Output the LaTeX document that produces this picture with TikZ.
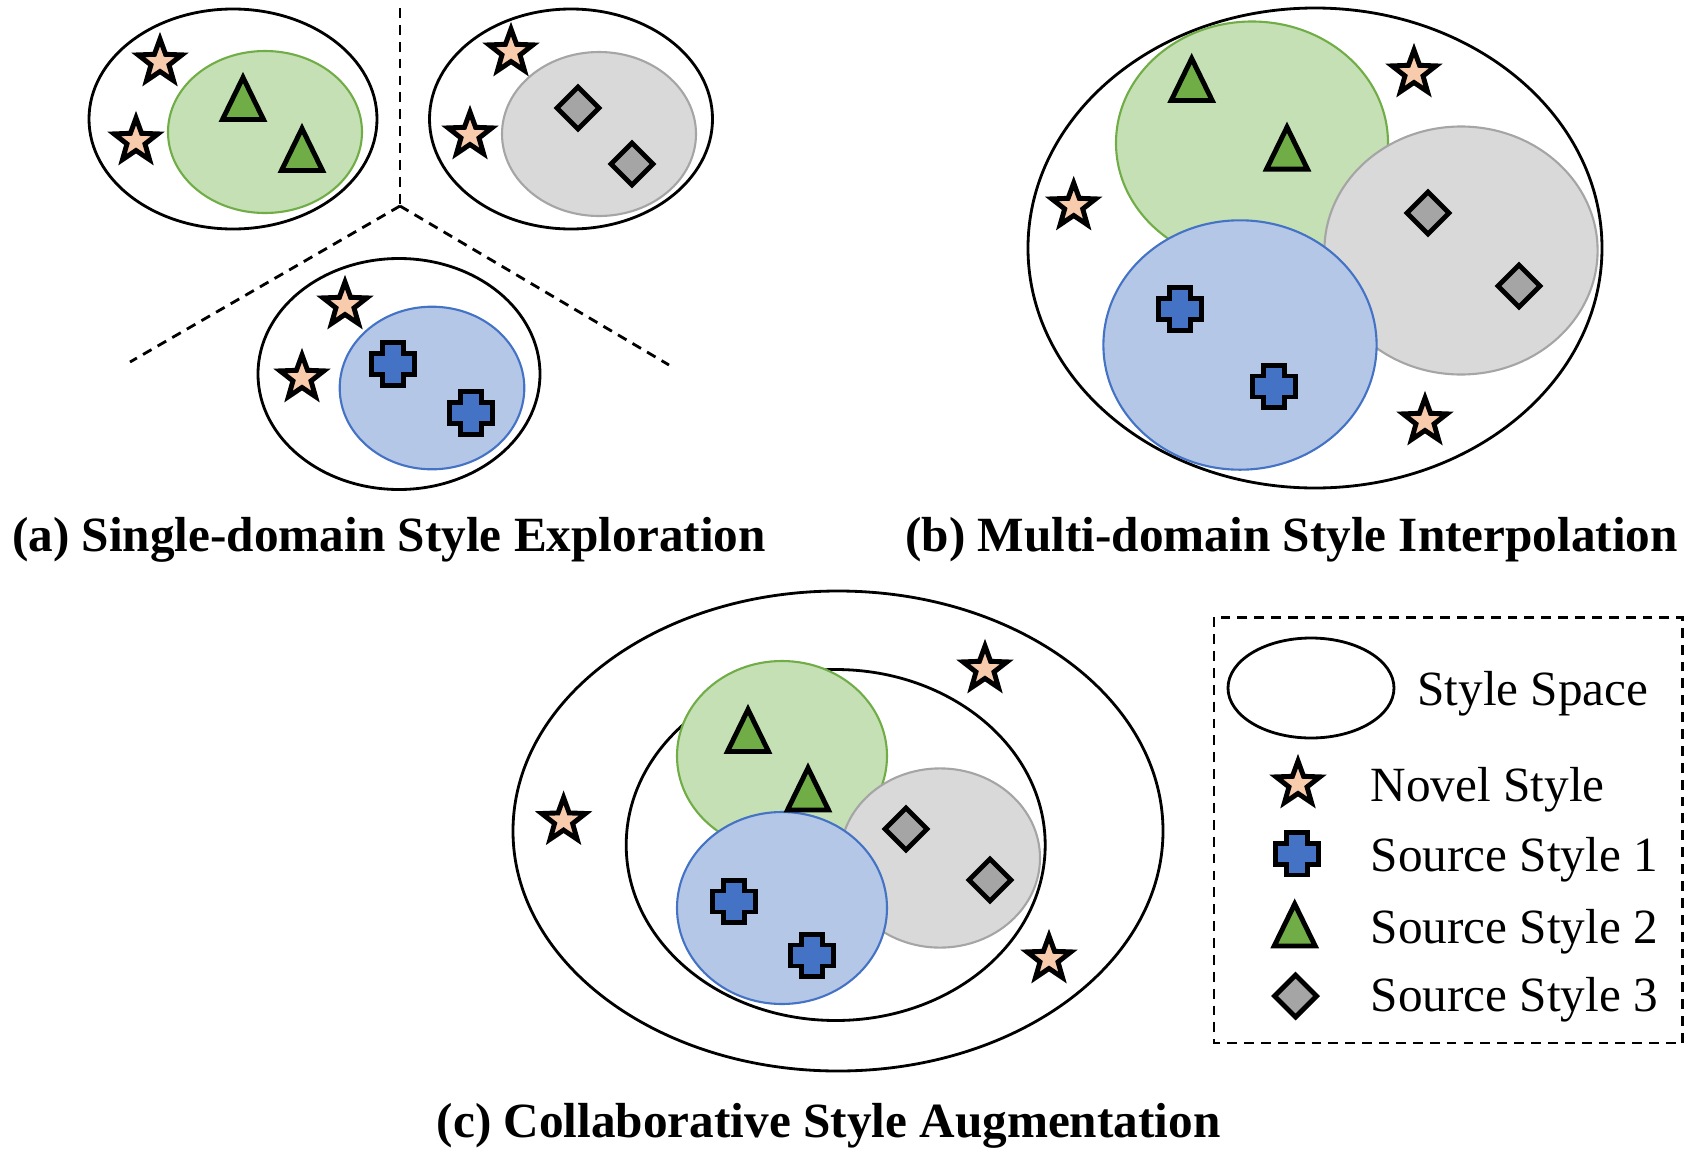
\documentclass[tikz,border=0pt]{standalone}
\usepackage{fontspec}
\setmainfont{Liberation Serif}

\definecolor{novelfill}{HTML}{F8CBAD}
\definecolor{greenlite}{HTML}{C5E0B4}
\definecolor{greendark}{HTML}{70AD47}
\definecolor{bluelite}{HTML}{B4C7E7}
\definecolor{bluedark}{HTML}{4472C4}
\definecolor{graylite}{HTML}{D9D9D9}
\definecolor{graydark}{HTML}{A5A5A5}

\tikzset{
	space/.style={draw=black, line width=0.8pt},
	domgreen/.style={fill=greenlite, draw=greendark, line width=0.6pt},
	domblue/.style={fill=bluelite, draw=bluedark, line width=0.6pt},
	domgray/.style={fill=graylite, draw=graydark, line width=0.6pt},
	divider/.style={draw=black, line width=0.8pt, dash pattern=on 2.8pt off 2pt},
	markline/.style={draw=black, line width=1.4pt, line join=miter, miter limit=10},
	caption/.style={font=\fontsize{14}{17}\selectfont\bfseries, anchor=base, inner sep=0pt},
	legendtext/.style={font=\fontsize{14}{17}\selectfont, anchor=base west, inner sep=0pt},
	novel/.pic={
		\path[markline, fill=novelfill] (-90:23)
			\foreach \k in {0,...,4} { -- ({-90+72*\k}:23) -- ({-54+72*\k}:9.5) } -- cycle;
	},
	srcone/.pic={
		\path[markline, fill=bluedark] (-10.5,-21.3) -- (10.5,-21.3) -- (10.5,-10.5) -- (21.3,-10.5)
			-- (21.3,10.5) -- (10.5,10.5) -- (10.5,21.3) -- (-10.5,21.3) -- (-10.5,10.5)
			-- (-21.3,10.5) -- (-21.3,-10.5) -- (-10.5,-10.5) -- cycle;
	},
	srctwo/.pic={
		\path[markline, fill=greendark] (0,-19.5) -- (20.5,22.5) -- (-20.5,22.5) -- cycle;
	},
	srcthree/.pic={
		\path[markline, fill=graydark] (0,-21) -- (21,0) -- (0,21) -- (-21,0) -- cycle;
	},
}

\begin{document}
\begin{tikzpicture}[x=0.01cm, y=-0.01cm]
	\useasboundingbox (0,0) rectangle (1693,1157);

	% (a) single domain
	\coordinate (hub) at (400,206);
	\coordinate (hubtop) at (400,8);
	\coordinate (hubleft) at (130,362);
	\coordinate (hubright) at (669,365);
	\draw[divider] (hubtop) -- (hub);
	\draw[divider] (hub) -- (hubleft);
	\draw[divider] (hub) -- (hubright);

	\draw[space] (233,119) ellipse [x radius=144, y radius=110];
	\path[domgreen] (265,132) ellipse [x radius=97, y radius=81];
	\pic (aTa) at (243,97) {srctwo};
	\pic (aTb) at (302,148) {srctwo};
	\pic (aNa) at (160,62) {novel};
	\pic (aNb) at (136,141) {novel};

	\draw[space] (571,119) ellipse [x radius=141.5, y radius=110];
	\path[domgray] (599,134) ellipse [x radius=97, y radius=82];
	\pic (aDa) at (578,108) {srcthree};
	\pic (aDb) at (632,164) {srcthree};
	\pic (aNc) at (511,52) {novel};
	\pic (aNd) at (470,135) {novel};

	\draw[space] (399,374) ellipse [x radius=141, y radius=115.5];
	\path[domblue] (432,388) ellipse [x radius=92.3, y radius=81.3];
	\pic (aPa) at (393,364) {srcone};
	\pic (aPb) at (471,413) {srcone};
	\pic (aNe) at (345,305) {novel};
	\pic (aNf) at (302,378) {novel};

	\node[caption] (capa) at (389,551.7) {(a) Single-domain Style Exploration};

	% (b) multi domain
	\draw[space] (1315,248) ellipse [x radius=287, y radius=240];
	\path[domgreen] (1252,143) ellipse [x radius=136, y radius=121.5];
	\path[domgray] (1461,250.5) ellipse [x radius=136.6, y radius=124];
	\path[domblue] (1240,345) ellipse [x radius=136.6, y radius=124.7];
	\pic (bTa) at (1191.7,78) {srctwo};
	\pic (bTb) at (1287,146.7) {srctwo};
	\pic (bDa) at (1428,213) {srcthree};
	\pic (bDb) at (1519,286) {srcthree};
	\pic (bPa) at (1180,309) {srcone};
	\pic (bPb) at (1274,386.5) {srcone};
	\pic (bNa) at (1414,73) {novel};
	\pic (bNb) at (1073.7,206) {novel};
	\pic (bNc) at (1425,421) {novel};

	\node[caption] (capb) at (1291.6,551.7) {(b) Multi-domain Style Interpolation};

	% (c) collaborative
	\draw[space] (838,831) ellipse [x radius=325, y radius=240];
	\draw[space] (835.7,845) ellipse [x radius=209.5, y radius=175.5];
	\path[domgreen] (782,756) ellipse [x radius=105, y radius=95];
	\path[domgray] (940,858) ellipse [x radius=100, y radius=89.6];
	\path[domblue] (782,908) ellipse [x radius=105, y radius=96];
	\pic (cTa) at (748,729) {srctwo};
	\pic (cTb) at (808,787.5) {srctwo};
	\pic (cDa) at (906,829) {srcthree};
	\pic (cDb) at (990,880) {srcthree};
	\pic (cPa) at (734,901.5) {srcone};
	\pic (cPb) at (812,955.5) {srcone};
	\pic (cNa) at (985,669) {novel};
	\pic (cNb) at (563.6,820.6) {novel};
	\pic (cNc) at (1049,959) {novel};

	\node[caption] (capc) at (828.6,1137) {(c) Collaborative Style Augmentation};

	% legend
	\draw[divider] (1214,617.3) rectangle (1682.7,1043);
	\draw[space] (1311,688) ellipse [x radius=83, y radius=50];
	\node[legendtext] (lspace) at (1416.7,705) {Style Space};
	\pic (lnovel) at (1298,784) {novel};
	\node[legendtext] (lnoveltext) at (1370,801.7) {Novel Style};
	\pic (lone) at (1297,853.7) {srcone};
	\node[legendtext] (lonetext) at (1370,871.7) {Source Style 1};
	\pic (ltwo) at (1294.7,923.5) {srctwo};
	\node[legendtext] (ltwotext) at (1370,943) {Source Style 2};
	\pic (lthree) at (1295.5,996) {srcthree};
	\node[legendtext] (lthreetext) at (1370,1011.7) {Source Style 3};
\end{tikzpicture}
\end{document}
